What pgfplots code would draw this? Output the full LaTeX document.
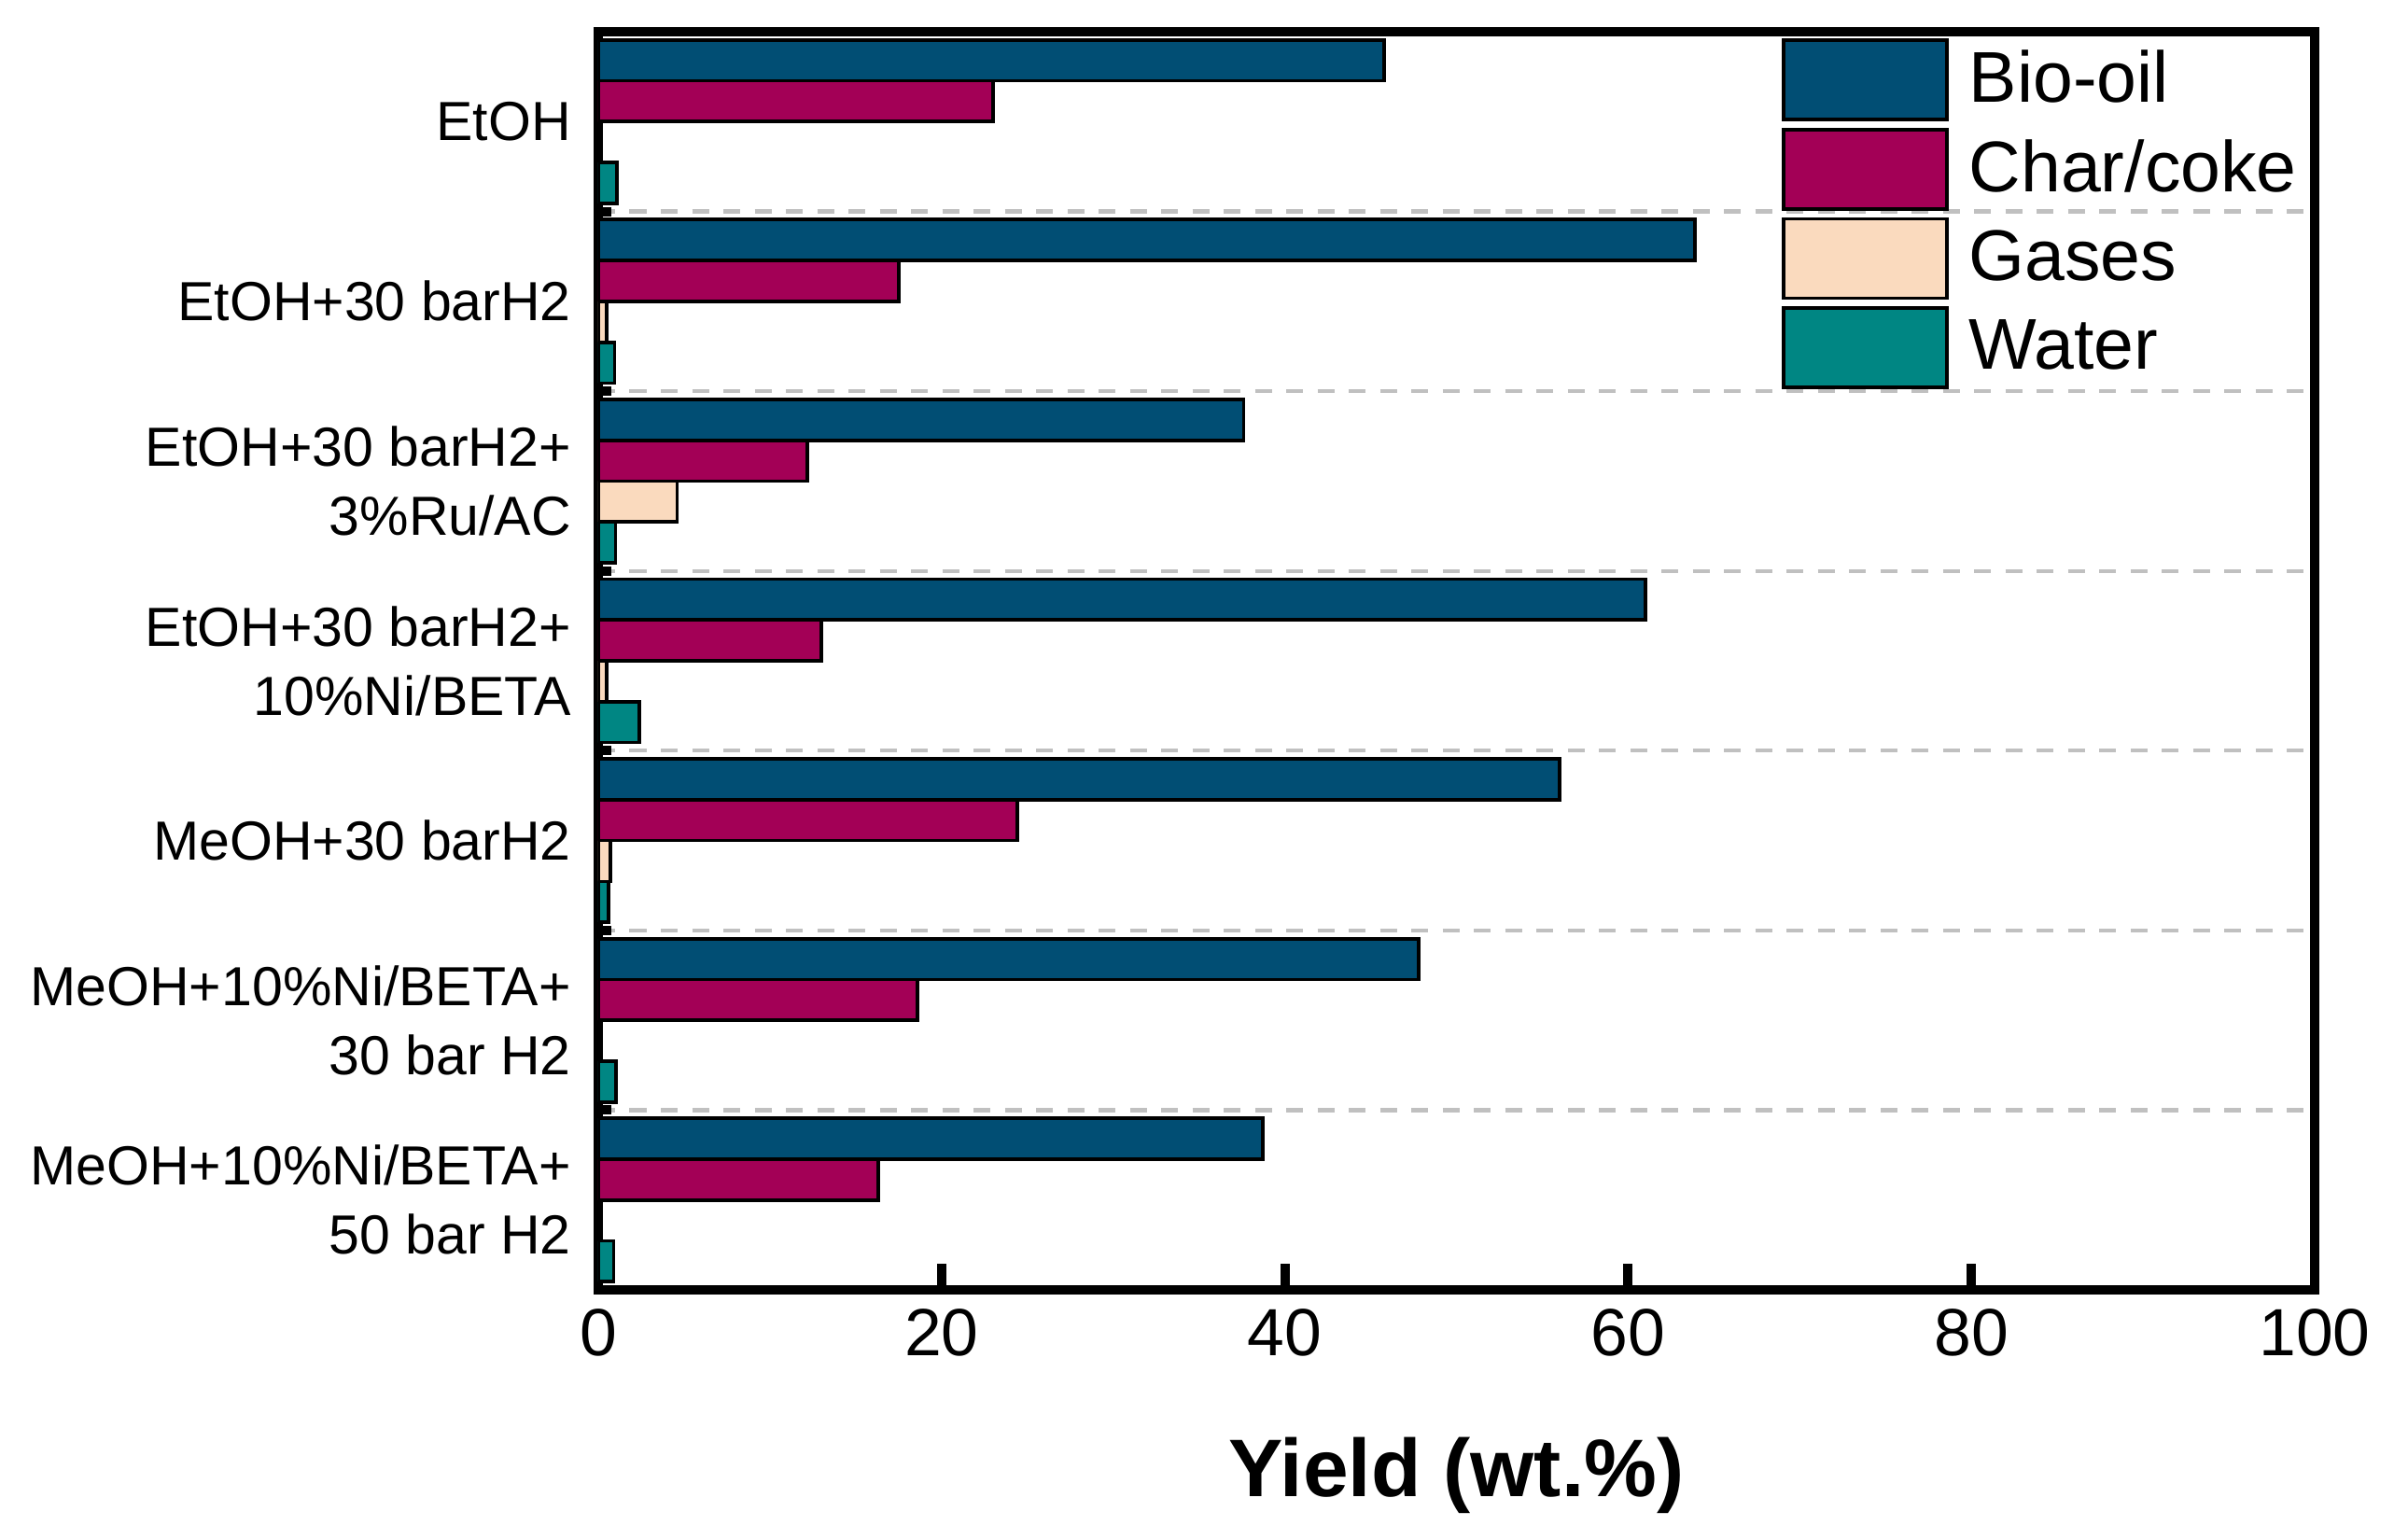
\documentclass[border=0pt]{standalone}
\usepackage{pgfplots}
\pgfplotsset{compat=1.18}
\usepackage{fontspec}
\setmainfont{Liberation Sans}
\definecolor{cbio}{RGB}{1,78,116}
\definecolor{cchar}{RGB}{163,0,86}
\definecolor{cgas}{RGB}{250,218,190}
\definecolor{cwater}{RGB}{0,134,131}
\definecolor{cgrid}{RGB}{192,192,192}
\pgfplotsset{
  mybar/.style={draw=black, line width=0.75pt,
    legend image code/.code={\draw[##1, line width=0.75pt] (0pt,-8.5pt) rectangle (35pt,8.5pt);}},
}
\begin{document}
\begin{tikzpicture}
\useasboundingbox (-128.2pt,-53.4pt) rectangle (384.8pt,276.4pt);
\begin{axis}[
  at={(0pt,0pt)}, anchor=south west,
  scale only axis, width=367.8pt, height=269.6pt,
  xmin=0, xmax=100, ymin=-0.5, ymax=6.5, y dir=reverse,
  xbar=0pt, bar width=0.2273,
  axis line style={line width=2pt, line cap=rect},
  tick align=inside,
  xtick={0,20,...,100}, xtick pos=bottom,
  x tick style={line width=2pt, black},
  major tick length=5.6pt,
  ytick={0,1,2,3,4,5,6}, ytick pos=left,
  y tick style={draw=none},
  yticklabels={
    {EtOH},
    {EtOH+30 barH2},
    {EtOH+30 barH2+\\3\%Ru/AC},
    {EtOH+30 barH2+\\10\%Ni/BETA},
    {MeOH+30 barH2},
    {MeOH+10\%Ni/BETA+\\30 bar H2},
    {MeOH+10\%Ni/BETA+\\50 bar H2}},
  yticklabel style={font=\fontsize{11.8}{14.8}\selectfont, align=right, xshift=-2.3pt},
  extra y ticks={0.5,1.5,2.5,3.5,4.5,5.5},
  extra y tick labels={},
  extra y tick style={grid=major,
    major grid style={draw=cgrid, line width=0.85pt, dash pattern=on 3.6pt off 3.1pt},
    y tick style={draw=black, line width=2pt}, major tick length=2.8pt},
  /pgf/number format/assume math mode=true,
  xticklabel style={font=\fontsize{14.3}{16}\selectfont, yshift=-0.6pt},
  xlabel={Yield (wt.\%)},
  xlabel style={font=\fontsize{17.5}{20}\selectfont\bfseries,
    at={(axis description cs:0.5,0)}, anchor=base, yshift=-44.2pt},
  legend style={at={(0.6895,0.9948)}, anchor=north west, draw=none, fill=none,
    inner sep=0pt, outer sep=0pt, row sep=1.4pt, column sep=4.4pt,
    font=\fontsize{15.4}{18}\selectfont,
    nodes={inner sep=0pt}},
  legend cell align=left,
]
\addplot[mybar, fill=cbio] coordinates {(45.8,0) (63.9,1) (37.6,2) (61.0,3) (56.0,4) (47.8,5) (38.7,6)};
\addlegendentry{Bio-oil}
\addplot[mybar, fill=cchar] coordinates {(23.0,0) (17.5,1) (12.2,2) (13.0,3) (24.4,4) (18.6,5) (16.3,6)};
\addlegendentry{Char/coke}
\addplot[mybar, fill=cgas] coordinates {(0.5,1) (4.6,2) (0.5,3) (0.7,4)};
\addlegendentry{Gases}
\addplot[mybar, fill=cwater] coordinates {(1.1,0) (0.95,1) (1.0,2) (2.4,3) (0.6,4) (1.05,5) (0.9,6)};
\addlegendentry{Water}
\end{axis}
\end{tikzpicture}
\end{document}
